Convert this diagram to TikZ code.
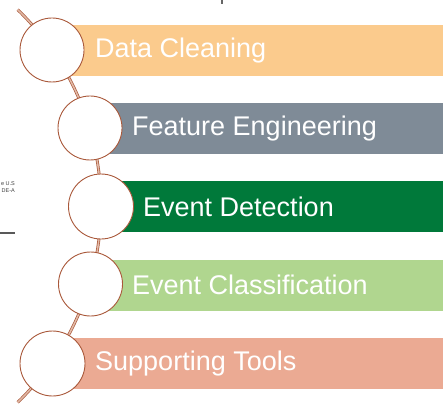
\documentclass[tikz,border=0pt]{standalone}
\usepackage{fontspec}
\setmainfont{Liberation Sans}
\definecolor{rodbrown}{HTML}{A9583A}
\definecolor{rodfill}{HTML}{E2B9A6}
\definecolor{cOrange}{HTML}{FBCB8D}
\definecolor{cGray}{HTML}{7F8B97}
\definecolor{cDGreen}{HTML}{00793A}
\definecolor{cLGreen}{HTML}{B0D68F}
\definecolor{cSalmon}{HTML}{EBAA93}
\begin{document}
\begin{tikzpicture}[x=1pt,y=-1pt,
  rod/.style={draw=rodbrown, line width=0.7pt, double=rodfill, double distance=1.5pt},
  ring/.style={circle, draw=rodbrown, line width=0.9pt, fill=white, minimum size=64pt, inner sep=0pt},
  lbl/.style={anchor=west, text=white, font=\fontsize{27}{30}\selectfont, inner sep=0pt},
  bar/.style={inner sep=0pt}]
\useasboundingbox (0,0) rectangle (443,403);
% bars
\fill[cOrange] (52,25) rectangle (443,76);
\fill[cGray] (90,103) rectangle (443,154);
\fill[cDGreen] (101,181) rectangle (443,232);
\fill[cLGreen] (90,260) rectangle (443,311);
\fill[cSalmon] (52,338) rectangle (443,389);
% rod
\draw[rod] plot[domain=-46:46, samples=80] ({-172+273*cos(\x)}, {206+273*sin(\x)});
% circles
\node[ring] (c1) at (52,50) {};
\node[ring] (c2) at (90,128) {};
\node[ring, minimum size=65pt] (c3) at (101,206.5) {};
\node[ring] (c4) at (90.5,284) {};
\node[ring, minimum size=65pt] (c5) at (52.5,363.5) {};
% labels
\node[lbl] (t1) at (95,50.5) {Data Cleaning};
\node[lbl] (t2) at (132,128.5) {Feature Engineering};
\node[lbl] (t3) at (143,206.5) {Event Detection};
\node[lbl] (t4) at (132,285) {Event Classification};
\node[lbl] (t5) at (95,363.5) {Supporting Tools};
% clipped fragments at the left and top
\node[anchor=east, inner sep=0pt, text=black!75, font=\fontsize{5.5}{6.5}\selectfont, align=right] (f1) at (15,187) {e U.S\\ DE-A};
\draw[black!65, line width=1.4pt] (0,233) coordinate (g1) -- (15,233) coordinate (g2);
\draw[black!60, line width=1.2pt] (222,0) coordinate (h1) -- (222,4) coordinate (h2);
\end{tikzpicture}
\end{document}
